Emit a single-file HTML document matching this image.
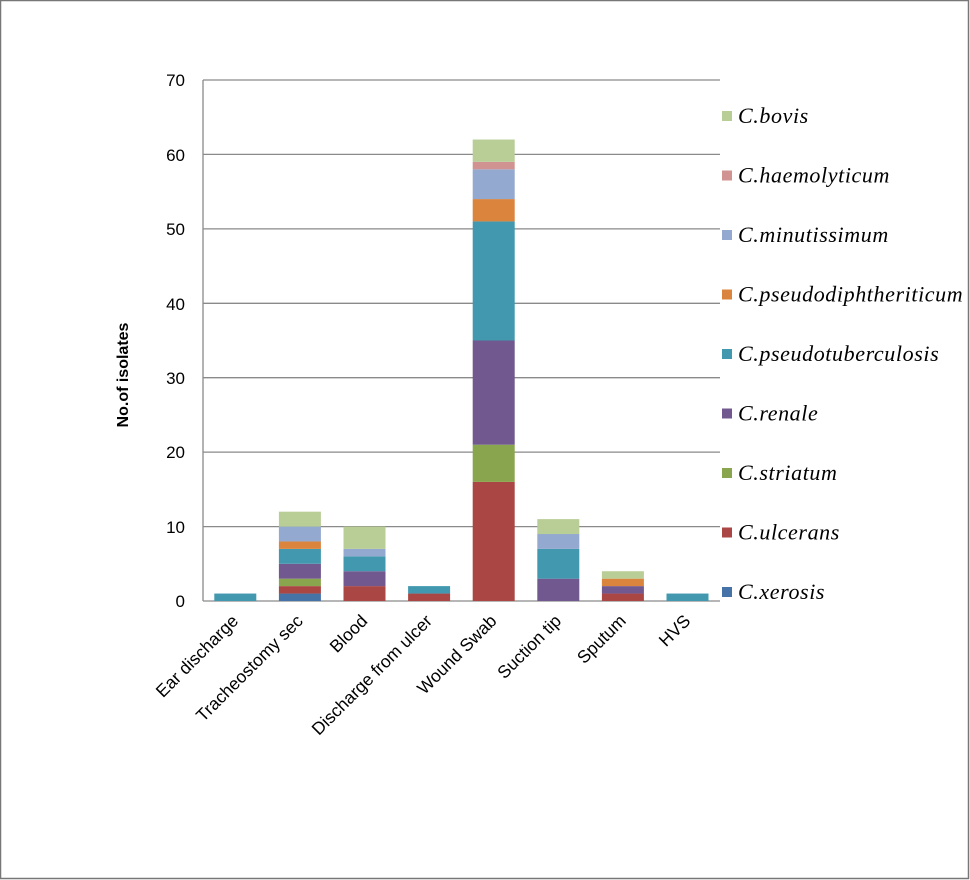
<!DOCTYPE html>
<html><head><style>body{margin:0;background:#fff}svg{display:block}</style></head><body>
<svg width="970" height="880" xmlns="http://www.w3.org/2000/svg">
<rect x="0.5" y="0.5" width="968" height="878" fill="#fff" stroke="#777" stroke-width="1.5"/>
<g stroke="#8a8a8a" stroke-width="1.3">
<line x1="203" y1="80" x2="720" y2="80"/><line x1="203" y1="154.4" x2="720" y2="154.4"/><line x1="203" y1="228.9" x2="720" y2="228.9"/><line x1="203" y1="303.3" x2="720" y2="303.3"/><line x1="203" y1="377.7" x2="720" y2="377.7"/><line x1="203" y1="452.1" x2="720" y2="452.1"/><line x1="203" y1="526.6" x2="720" y2="526.6"/>
<line x1="203" y1="80" x2="203" y2="601"/><line x1="203" y1="601" x2="720" y2="601"/>
</g>
<g font-family="Liberation Sans, sans-serif" font-size="17" fill="#000" text-anchor="end">
<text x="185" y="607">0</text><text x="185" y="533">10</text><text x="185" y="458">20</text><text x="185" y="384">30</text><text x="185" y="310">40</text><text x="185" y="235">50</text><text x="185" y="161">60</text><text x="185" y="86">70</text>
</g>
<text transform="translate(128,375) rotate(-90)" text-anchor="middle" font-family="Liberation Sans, sans-serif" font-size="16" font-weight="bold">No.of isolates</text>
<g id="bars"></g>
<g font-family="Liberation Sans, sans-serif" font-size="17.5" text-anchor="end" id="cats"></g>
<g font-family="Liberation Serif, serif" font-style="italic" font-size="22" letter-spacing="0.6" id="leg"></g>
<script>
var cols=["#4572A7","#AA4643","#89A54E","#71588F","#4198AF","#DB843D","#93A9CF","#D19392","#B9CD96"];
var names=["C.xerosis","C.ulcerans","C.striatum","C.renale","C.pseudotuberculosis","C.pseudodiphtheriticum","C.minutissimum","C.haemolyticum","C.bovis"];
var data=[[0,0,0,0,1,0,0,0,0],[1,1,1,2,2,1,2,0,2],[0,2,0,2,2,0,1,0,3],[0,1,0,0,1,0,0,0,0],[0,16,5,14,16,3,4,1,3],[0,0,0,3,4,0,2,0,2],[0,1,0,1,0,1,0,0,1],[0,0,0,0,1,0,0,0,0]];
var cats=["Ear discharge","Tracheostomy sec","Blood","Discharge from ulcer","Wound Swab","Suction tip","Sputum","HVS"];
var ns="http://www.w3.org/2000/svg",b=document.getElementById("bars"),c=document.getElementById("cats"),l=document.getElementById("leg");
var u=521/70;
data.forEach(function(d,i){var cx=203+64.6*(i+0.5),y=601;d.forEach(function(v,j){if(!v)return;var h=v*u;var r=document.createElementNS(ns,"rect");r.setAttribute("x",cx-21);r.setAttribute("width",42);r.setAttribute("y",y-h);r.setAttribute("height",h);r.setAttribute("fill",cols[j]);b.appendChild(r);y-=h;});
var t=document.createElementNS(ns,"text");t.setAttribute("transform","translate("+(cx+4)+",622) rotate(-45)");t.textContent=cats[i];c.appendChild(t);});
names.forEach(function(n,j){var y=592-(j)*59.5;var r=document.createElementNS(ns,"rect");r.setAttribute("x",722);r.setAttribute("y",y-5);r.setAttribute("width",10);r.setAttribute("height",10);r.setAttribute("fill",cols[j]);l.appendChild(r);var t=document.createElementNS(ns,"text");t.setAttribute("x",738);t.setAttribute("y",y+7);t.textContent=n;l.appendChild(t);});
</script>
</svg>
</body></html>
